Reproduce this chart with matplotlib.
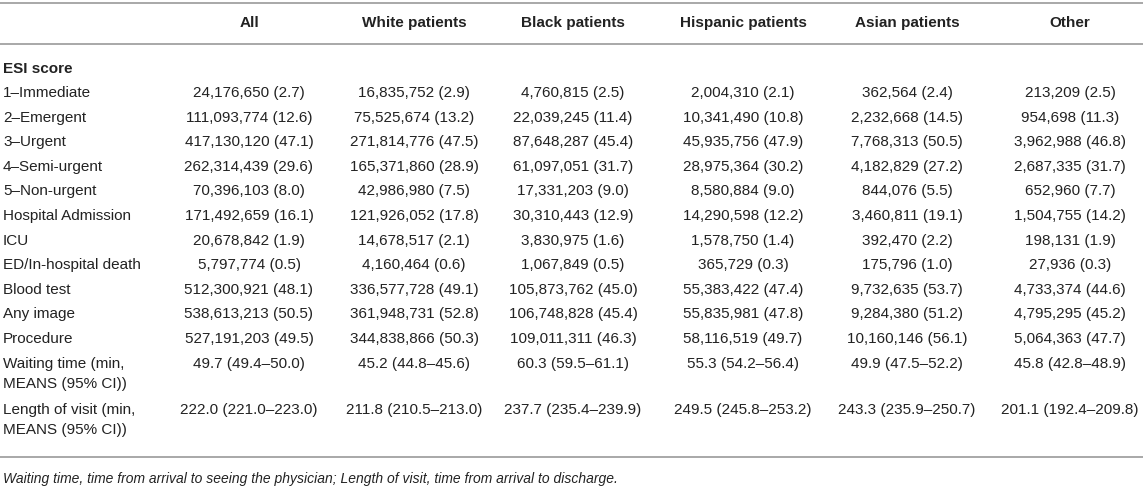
import matplotlib
matplotlib.use("Agg")
import matplotlib.pyplot as plt

plt.rcParams['font.family'] = ['Liberation Sans', 'DejaVu Sans']

# column headers and row labels
columns = ["All", "White patients", "Black patients", "Hispanic patients",
           "Asian patients", "Other"]
section = "ESI score"
row_labels = ["1\u2013Immediate", "2\u2013Emergent", "3\u2013Urgent",
              "4\u2013Semi-urgent", "5\u2013Non-urgent", "Hospital Admission",
              "ICU", "ED/In-hospital death", "Blood test", "Any image",
              "Procedure"]

# counts (percent) per column
all_pts = ["24,176,650 (2.7)", "111,093,774 (12.6)", "417,130,120 (47.1)",
           "262,314,439 (29.6)", "70,396,103 (8.0)", "171,492,659 (16.1)",
           "20,678,842 (1.9)", "5,797,774 (0.5)", "512,300,921 (48.1)",
           "538,613,213 (50.5)", "527,191,203 (49.5)"]
white = ["16,835,752 (2.9)", "75,525,674 (13.2)", "271,814,776 (47.5)",
         "165,371,860 (28.9)", "42,986,980 (7.5)", "121,926,052 (17.8)",
         "14,678,517 (2.1)", "4,160,464 (0.6)", "336,577,728 (49.1)",
         "361,948,731 (52.8)", "344,838,866 (50.3)"]
black = ["4,760,815 (2.5)", "22,039,245 (11.4)", "87,648,287 (45.4)",
         "61,097,051 (31.7)", "17,331,203 (9.0)", "30,310,443 (12.9)",
         "3,830,975 (1.6)", "1,067,849 (0.5)", "105,873,762 (45.0)",
         "106,748,828 (45.4)", "109,011,311 (46.3)"]
hispanic = ["2,004,310 (2.1)", "10,341,490 (10.8)", "45,935,756 (47.9)",
            "28,975,364 (30.2)", "8,580,884 (9.0)", "14,290,598 (12.2)",
            "1,578,750 (1.4)", "365,729 (0.3)", "55,383,422 (47.4)",
            "55,835,981 (47.8)", "58,116,519 (49.7)"]
asian = ["362,564 (2.4)", "2,232,668 (14.5)", "7,768,313 (50.5)",
         "4,182,829 (27.2)", "844,076 (5.5)", "3,460,811 (19.1)",
         "392,470 (2.2)", "175,796 (1.0)", "9,732,635 (53.7)",
         "9,284,380 (51.2)", "10,160,146 (56.1)"]
other = ["213,209 (2.5)", "954,698 (11.3)", "3,962,988 (46.8)",
         "2,687,335 (31.7)", "652,960 (7.7)", "1,504,755 (14.2)",
         "198,131 (1.9)", "27,936 (0.3)", "4,733,374 (44.6)",
         "4,795,295 (45.2)", "5,064,363 (47.7)"]

# means (95% CI)
mean_labels = [("Waiting time (min,", "MEANS (95% CI))"),
               ("Length of visit (min,", "MEANS (95% CI))")]
waiting = ["49.7 (49.4\u201350.0)", "45.2 (44.8\u201345.6)", "60.3 (59.5\u201361.1)",
           "55.3 (54.2\u201356.4)", "49.9 (47.5\u201352.2)", "45.8 (42.8\u201348.9)"]
length_visit = ["222.0 (221.0\u2013223.0)", "211.8 (210.5\u2013213.0)",
                "237.7 (235.4\u2013239.9)", "249.5 (245.8\u2013253.2)",
                "243.3 (235.9\u2013250.7)", "201.1 (192.4\u2013209.8)"]

footnote = ("Waiting time, time from arrival to seeing the physician; "
            "Length of visit, time from arrival to discharge.")

W, H = 1143, 500
fig = plt.figure(figsize=(W / 100, H / 100), dpi=100)
ax = fig.add_axes([0, 0, 1, 1])
ax.set_xlim(0, W)
ax.set_ylim(H, 0)
ax.axis("off")

txt = "#222222"
line_col = "#a8a8a8"
fs = 11
col_x = [249, 414, 573, 743, 907, 1070]
left = 3

# rules
for y in (2.5, 44, 457):
    ax.plot([0, W], [y, y], color=line_col, lw=1.4, solid_capstyle="butt")

# header
for x, c in zip(col_x, columns):
    ax.text(x, 23, c, ha="center", va="center", fontsize=fs,
            fontweight="bold", color=txt)

ax.text(left, 69, section, ha="left", va="center", fontsize=fs,
        fontweight="bold", color=txt)

cols = [all_pts, white, black, hispanic, asian, other]
y0, dy = 93, 24.6
for i, lab in enumerate(row_labels):
    y = y0 + i * dy
    ax.text(left, y, lab, ha="left", va="center", fontsize=fs, color=txt)
    for x, col in zip(col_x, cols):
        ax.text(x, y, col[i], ha="center", va="center", fontsize=fs, color=txt)

y_means = [y0 + len(row_labels) * dy, y0 + len(row_labels) * dy + 46]
for (l1, l2), y, vals in zip(mean_labels, y_means, [waiting, length_visit]):
    ax.text(left, y, l1, ha="left", va="center", fontsize=fs, color=txt)
    ax.text(left, y + 20, l2, ha="left", va="center", fontsize=fs, color=txt)
    for x, v in zip(col_x, vals):
        ax.text(x, y, v, ha="center", va="center", fontsize=fs, color=txt)

ax.text(left, 479, footnote, ha="left", va="center", fontsize=10,
        style="italic", color=txt)

fig.savefig("out.png", dpi=100)
